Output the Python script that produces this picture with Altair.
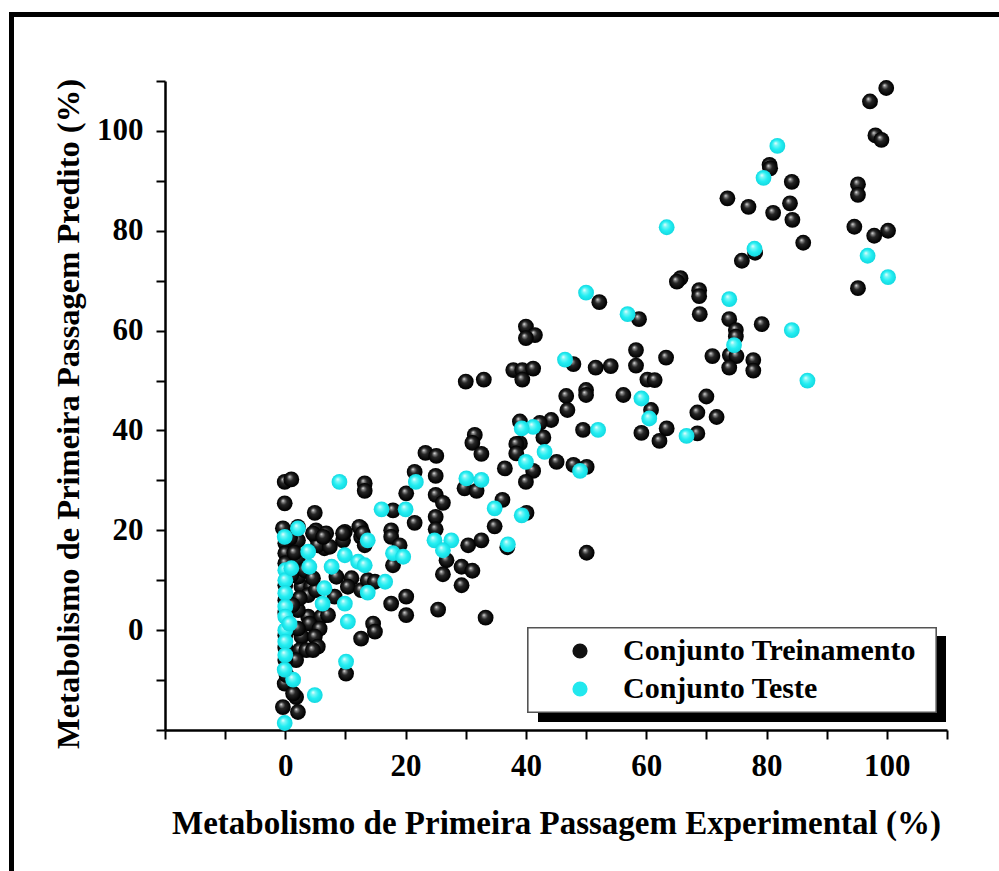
import altair as alt
import pandas as pd

# ---- data ----
train_x = [99.9, 97.2, 98.1, 99.1, 80.5, 80.6, 84.2, 95.2, 95.2, 73.5, 77.0, 81.1, 83.9, 84.3, 86.1,
           94.6, 97.9, 100.2, 95.2, 78.1, 75.9, 65.7, 65.1, 68.8, 68.8, 68.9, 52.2, 58.8, 73.8, 74.9,
           74.9, 73.9, 75.0, 71.0, 73.8, 77.8, 77.8, 79.2, 58.3, 58.3, 63.3, 60.2, 61.4, 54.1, 51.6,
           47.9, 46.7, 50.0, 50.0, 56.2, 70.0,
           46.9, 60.8, 68.5, 71.7, 63.4, 59.2, 62.2, 68.5, 44.2, 42.3, 42.9, 49.5, 39.0, 45.1, 47.9,
           50.1, 41.2, 40.0, 40.1, 50.1,
           40.0, 41.5, 40.0, 37.9, 39.4, 41.2, 39.4, 30.0, 33.0, 39.0, 38.4, 38.4, 31.5, 31.1, 32.6,
           36.5, 23.3, 25.1, 21.5, 25.0, 29.8, 31.8, 20.1, 25.0, 26.2, 21.5, 25.0, 25.0, 36.1, 34.8,
           26.8, 30.4, 32.6, 36.9, 29.3, 31.1, 26.2, 29.3, 20.1, 20.1, 25.4, 33.3,
           -0.1, 1.0, -0.1, 13.2, 13.2, 4.9, 17.9, 17.6, 17.6, 17.9, 17.6, 12.6, 14.6, 14.9, 10.1,
           -0.4, 2.1, 1.8, -0.1, 1.3, 0.2,
           -0.4, 0.0, 0.0, 0.0, 2.1, 2.1, 5.1, 5.1, 6.5, 6.8, 9.9, 9.6, 12.6, 12.6, 13.2, 8.5, 11.0,
           10.4, 12.6, 13.7, 14.9, 8.2, 2.7, 4.3, 3.8, 5.1, 3.8, 6.0, 7.1, 4.0, 5.7, 2.7, 4.9, 5.4,
           2.4, 3.5, 4.6, 2.1, 2.1, 2.4, 2.1, 2.1, 5.4, 3.2, 4.6, 7.4, 0.0, 0.0, 0.0, 0.0, 0.0, 1.8,
           0.0, 19.0, 4.6, 6.3, 9.6, 12.3, 12.9, 1.0, 1.2, 1.5, 0.8]
train_y = [108.6, 105.9, 99.1, 98.2, 93.2, 92.5, 89.8, 89.3, 87.2, 86.5, 84.8, 83.6, 85.5, 82.2, 77.6,
           80.8, 79.0, 80.0, 68.5, 75.6, 74.0, 70.5, 69.8, 68.1, 66.9, 63.3, 65.7, 62.3, 62.3, 60.1,
           58.8, 55.1, 54.9, 54.9, 52.6, 54.1, 52.0, 61.3, 56.1, 53.0, 54.6, 50.2, 50.1, 52.9, 52.6,
           53.3, 46.9, 48.1, 47.1, 47.1, 46.8,
           44.1, 44.1, 43.6, 42.7, 40.4, 39.5, 37.9, 39.4, 42.1, 41.5, 38.6, 40.1, 37.4, 33.7, 33.1,
           32.7, 31.9, 29.7, 23.5, 15.5,
           60.8, 59.1, 58.5, 52.1, 52.1, 52.4, 50.2, 49.8, 50.2, 41.8, 37.3, 35.4, 39.1, 37.5, 35.3,
           32.4, 35.5, 34.9, 31.7, 30.9, 28.4, 27.9, 27.4, 27.1, 25.5, 21.5, 22.7, 20.2, 26.1, 20.8,
           14.0, 17.0, 18.0, 16.6, 12.7, 11.9, 11.2, 9.0, 6.7, 3.0, 4.1, 2.5,
           29.7, 30.2, 25.4, 29.4, 27.9, 23.5, 24.0, 20.0, 18.7, 13.0, 5.3, -1.7, 1.3, -0.3, -8.7,
           -15.4, -16.4, -13.4, -10.7, -12.7, -9.0,
           20.4, 17.4, 15.4, 13.4, 18.0, 20.7, 20.0, 18.7, 16.4, 19.4, 19.7, 18.0, 20.4, 18.7, 17.0,
           10.7, 10.4, 8.7, 8.0, 10.0, 9.7, 6.7, 8.7, 8.7, 7.0, 8.0, 2.7, 2.7, 3.0, 1.3, 0.3, -1.3,
           -1.3, -3.3, -4.0, -4.0, -4.0, 4.0, 0.3, 6.4, 10.7, 14.4, 17.0, 12.0, 10.4, 16.7, 9.0, 6.0,
           3.5, -1.0, -3.5, -6.0, -6.0, 17.0, 19.4, 18.7, 19.4, 20.7, 19.4, 11.0, 5.0, 15.5, 18.5]

test_x = [81.8, 79.5, 96.8, 100.2, 78.0, 63.4, 50.0, 56.9, 73.8, 74.6, 84.2, 86.8, 46.5, 59.2, 60.5,
          66.7, 41.2, 39.3, 52.0, 43.1, 49.0, 40.0, 39.3, 21.7, 30.1, 32.6, 20.0, 34.8, 24.8, 27.6,
          26.2, 37.0,
          9.0, 16.0, 17.9, 19.6, 16.6, 10.1, 4.9, -0.1, 1.3, -0.1, 0.0, 0.0, 0.0, 0.0, 0.0, 0.0,
          0.0, 0.0, 1.0, 2.1, -0.1, 0.7, 3.8, 4.0, 7.7, 6.5, 6.2, 9.9, 9.9, 10.4, 12.1, 13.2, 13.7,
          13.7]
test_y = [97.0, 90.6, 75.0, 70.7, 76.4, 80.7, 67.6, 63.3, 66.3, 57.1, 60.1, 50.0, 54.2, 46.4, 42.4,
          38.9, 40.7, 40.4, 40.1, 35.7, 31.9, 33.7, 23.0, 29.7, 30.4, 30.1, 24.2, 24.4, 18.0, 18.0,
          16.0, 17.2,
          29.7, 24.2, 15.4, 14.7, 9.7, -6.3, -13.0, -18.6, -9.9, -7.9, 12.0, 10.0, 7.4, 4.7, 2.7, 0.0,
          -2.3, -5.0, 12.4, 20.4, 18.7, 1.3, 15.7, 12.7, 12.7, 8.4, 5.3, 15.0, 5.3, 1.7, 13.7, 13.0,
          18.0, 7.5]

groups = ["Conjunto Treinamento", "Conjunto Teste"]
group_colors = ["#111111", "#22e8ee"]
x_ticks = list(range(-20, 111, 10))
y_ticks = list(range(-20, 111, 10))

df = pd.concat([
    pd.DataFrame({"x": train_x, "y": train_y, "g": groups[0]}),
    pd.DataFrame({"x": test_x, "y": test_y, "g": groups[1]}),
], ignore_index=True)

FONT = "Liberation Serif"
W, H = 782, 649
LEFT, TOP = 165, 81

xs = alt.X("x:Q", scale=alt.Scale(domain=[-20, 110], nice=False, zero=False),
           axis=alt.Axis(values=x_ticks,
                         labelExpr="(datum.value % 20 == 0 && datum.value >= 0) ? datum.label : ''",
                         title="Metabolismo de Primeira Passagem Experimental (%)",
                         titleFontSize=33,
                         titleY=93, titleBaseline="middle", labelPadding=12))
ys = alt.Y("y:Q", scale=alt.Scale(domain=[-20, 110], nice=False, zero=False),
           axis=alt.Axis(values=y_ticks,
                         labelExpr="(datum.value % 20 == 0 && datum.value >= 0) ? datum.label : ''",
                         title="Metabolismo de Primeira Passagem Predito (%)",
                         titleFontSize=32.5,
                         titleX=-97, titleY=H / 2 + 8, titleAngle=270, titleBaseline="middle",
                         labelPadding=13))

# invisible layer carrying the legend
legend_layer = alt.Chart(df).mark_circle(size=250, opacity=0).encode(
    x=xs, y=ys,
    color=alt.Color("g:N", scale=alt.Scale(domain=groups, range=group_colors),
                    sort=groups,
                    legend=alt.Legend(title=None, orient="none", legendX=363, legendY=547,
                                      symbolType="circle", symbolSize=230, symbolOpacity=1,
                                      symbolStrokeWidth=0, labelLimit=600,
                                      labelFont=FONT, labelFontSize=30, labelFontWeight="bold",
                                      labelColor="black", labelOffset=28, symbolOffset=29,
                                      rowPadding=8, padding=8)),
)

black_ball = {"gradient": "radial", "x1": 0.38, "y1": 0.32, "r1": 0, "x2": 0.5, "y2": 0.5, "r2": 0.5,
              "stops": [{"offset": 0, "color": "#f4f4f4"}, {"offset": 0.16, "color": "#8a8a8a"},
                        {"offset": 0.42, "color": "#262626"}, {"offset": 0.85, "color": "#060606"},
                        {"offset": 1, "color": "#000000"}]}
cyan_ball = {"gradient": "radial", "x1": 0.38, "y1": 0.32, "r1": 0, "x2": 0.5, "y2": 0.5, "r2": 0.5,
             "stops": [{"offset": 0, "color": "#f4ffff"}, {"offset": 0.25, "color": "#7af6f6"},
                       {"offset": 0.6, "color": "#22eef2"}, {"offset": 1, "color": "#14d8e0"}]}

train_layer = alt.Chart(df).transform_filter(alt.datum.g == groups[0]).mark_circle(
    size=250, opacity=1, color=black_ball).encode(x=xs, y=ys)
test_layer = alt.Chart(df).transform_filter(alt.datum.g == groups[1]).mark_circle(
    size=250, opacity=1, color=cyan_ball).encode(x=xs, y=ys)

# legend drop shadow and legend box
shadow = alt.Chart(df).mark_rect(color="black").encode(
    x=alt.value(373), x2=alt.value(781), y=alt.value(555), y2=alt.value(641))
legend_box = alt.Chart(df).mark_rect(fill="white", stroke="#555555", strokeWidth=1.2).encode(
    x=alt.value(363), x2=alt.value(771), y=alt.value(547), y2=alt.value(631))

# outer figure frame (only left/top visible in the reference)
frame = alt.Chart(df).mark_rect(fill=None, stroke="black", strokeWidth=5, fillOpacity=0).encode(
    x=alt.value(11.5 - LEFT), x2=alt.value(2000), y=alt.value(14.5 - TOP), y2=alt.value(2000))

chart = alt.layer(frame, legend_layer, train_layer, test_layer, shadow, legend_box).properties(
    width=W, height=H,
    autosize=alt.AutoSizeParams(type="none"),
    padding={"left": LEFT, "top": TOP, "right": 999 - LEFT - W, "bottom": 871 - TOP - H},
    background="white",
).configure_view(stroke=None).configure_axis(
    grid=False, domainColor="black", domainWidth=2.5, tickColor="black", tickWidth=2,
    tickSize=9, labelFont=FONT, labelFontSize=31, labelFontWeight="bold", labelColor="black",
    titleFont=FONT, titleFontWeight="bold", titleColor="black",
    labelFlush=False, labelOverlap=False,
)

chart.save("out.html", embed_options={"renderer": "svg", "actions": False})
